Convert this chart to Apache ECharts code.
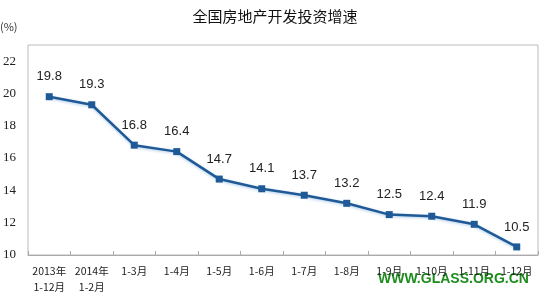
<!DOCTYPE html>
<html><head><meta charset="utf-8">
<script src="https://cdn.jsdelivr.net/npm/echarts@6/dist/echarts.min.js"></script>
<style>html,body{margin:0;padding:0;background:#fff}#c{width:550px;height:300px}</style>
</head><body><div id="c"></div>
<script>
const categories = ['2013年\n1-12月','2014年\n1-2月','1-3月','1-4月','1-5月','1-6月','1-7月','1-8月','1-9月','1-10月','1-11月','1-12月'];
const growth = [19.8, 19.3, 16.8, 16.4, 14.7, 14.1, 13.7, 13.2, 12.5, 12.4, 11.9, 10.5];
const chart = echarts.init(document.getElementById('c'));
chart.setOption({
  animation: false,
  backgroundColor: '#fff',
  title: {text: '全国房地产开发投资增速', left: 'center', top: 4,
    textStyle: {fontFamily: 'Noto Sans CJK SC', fontSize: 15, fontWeight: 'normal', color: '#111'}},
  graphic: [
    {type: 'text', left: 0, top: 21, style: {text: '(%)', fontFamily: 'Noto Sans CJK SC', fontSize: 11, fill: '#333'}},
    {type: 'text', left: 378, top: 272, style: {text: 'WWW.GLASS.ORG.CN', fontFamily: 'Liberation Sans', fontWeight: 'bold', fontSize: 14, fill: '#1e8c1e'}}
  ],
  grid: {left: 27, right: 12, top: 45, bottom: 45, show: true, borderColor: '#bbb', borderWidth: 1},
  xAxis: {type: 'category', data: categories, boundaryGap: true,
    axisLine: {lineStyle: {color: '#aaa'}},
    axisTick: {show: true, inside: true, length: 4, lineStyle: {color: '#aaa'}},
    axisLabel: {interval: 0, color: '#222', fontFamily: 'Noto Sans CJK SC', fontSize: 10.5, lineHeight: 16, margin: 8}},
  yAxis: {type: 'value', min: 10, max: 23, interval: 2,
    axisLine: {show: false}, axisTick: {show: false}, splitLine: {show: false},
    axisLabel: {showMaxLabel: false, color: '#222', fontFamily: 'Liberation Serif', fontSize: 13, margin: 12}},
  series: [{type: 'line', data: growth, symbol: 'rect', symbolSize: 7,
    lineStyle: {color: '#1f5a96', width: 2.5, shadowColor: 'rgba(120,170,220,0.6)', shadowBlur: 3, shadowOffsetY: 1},
    itemStyle: {color: '#1f5a96'},
    label: {show: true, position: 'top', distance: 10, color: '#222', fontFamily: 'Liberation Sans', fontSize: 13}}]
});
</script></body></html>
